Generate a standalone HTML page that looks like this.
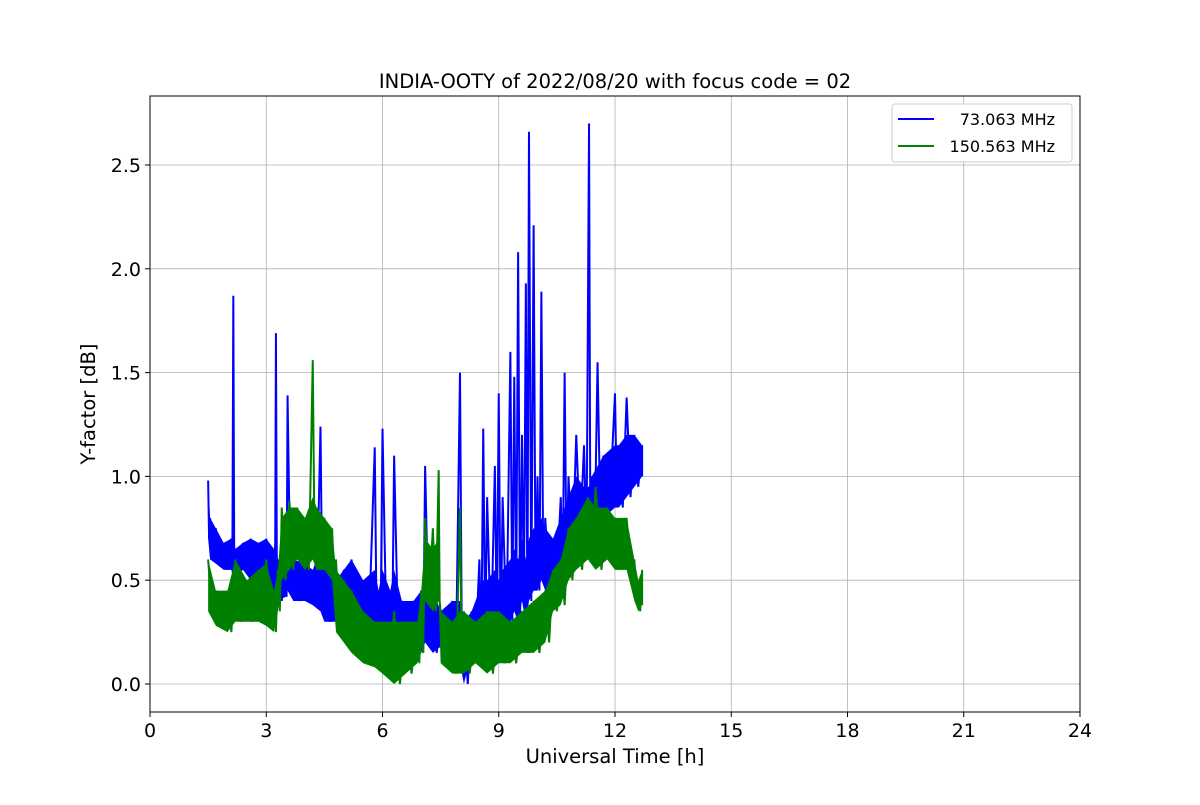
<!DOCTYPE html>
<html><head><meta charset="utf-8"><style>
body{margin:0;background:#fff;font-family:"Liberation Sans","DejaVu Sans",sans-serif}
svg text{font-family:"DejaVu Sans","Liberation Sans",sans-serif}
</style></head><body>
<svg id="c" width="1200" height="800" xmlns="http://www.w3.org/2000/svg"></svg>
<script>
const xTicks=[0,3,6,9,12,15,18,21,24];
const yTicks=[0.0,0.5,1.0,1.5,2.0,2.5];
const yTickLabels=["0.0","0.5","1.0","1.5","2.0","2.5"];
const blueT=[1.5,1.55,1.7,1.9,2.1,2.15,2.2,2.4,2.6,2.8,3.0,3.2,3.25,3.3,3.5,3.55,3.7,4.0,4.2,4.4,4.5,4.8,5.0,5.2,5.5,5.8,5.9,6.0,6.2,6.3,6.5,6.8,7.0,7.1,7.3,7.5,7.8,8.0,8.1,8.3,8.5,8.6,8.7,8.9,9.0,9.1,9.3,9.4,9.5,9.6,9.7,9.78,9.9,10.0,10.1,10.2,10.4,10.6,10.7,10.8,11.0,11.2,11.33,11.4,11.55,11.7,12.0,12.1,12.3,12.5,12.7];
const blueHi=[0.98,0.8,0.75,0.68,0.7,1.87,0.65,0.68,0.7,0.68,0.7,0.65,1.69,0.6,0.6,1.39,0.6,0.58,0.55,1.24,0.55,0.5,0.55,0.6,0.5,1.14,0.45,1.23,0.45,1.1,0.4,0.4,0.45,1.05,0.45,0.35,0.4,1.5,0.3,0.35,0.6,1.23,0.9,1.05,1.4,0.9,1.6,1.48,2.08,1.2,1.93,2.66,2.21,1.0,1.89,0.8,0.7,0.9,1.5,1.0,1.2,1.15,2.7,1.0,1.55,1.1,1.4,1.15,1.38,1.2,1.15];
const blueLo=[0.7,0.6,0.58,0.55,0.55,0.5,0.52,0.55,0.5,0.52,0.5,0.35,0.45,0.4,0.42,0.45,0.4,0.4,0.38,0.35,0.3,0.3,0.3,0.3,0.28,0.25,0.25,0.25,0.22,0.25,0.22,0.2,0.15,0.2,0.15,0.18,0.18,0.1,0.0,0.15,0.15,0.2,0.2,0.25,0.2,0.25,0.3,0.35,0.3,0.4,0.3,0.4,0.45,0.45,0.5,0.45,0.5,0.5,0.55,0.6,0.7,0.65,0.65,0.7,0.75,0.8,0.85,0.85,0.9,0.95,1.0];
const greenT=[1.5,1.7,2.0,2.2,2.5,2.8,3.0,3.2,3.3,3.4,3.6,3.8,4.0,4.2,4.3,4.5,4.7,4.8,5.0,5.2,5.5,5.8,6.0,6.3,6.6,6.9,7.0,7.1,7.3,7.45,7.5,7.8,8.0,8.1,8.4,8.7,9.0,9.3,9.6,9.9,10.2,10.4,10.6,10.8,11.0,11.3,11.5,11.8,12.0,12.3,12.5,12.6,12.7];
const greenHi=[0.6,0.45,0.45,0.6,0.5,0.55,0.6,0.45,0.55,0.85,0.88,0.85,0.8,1.56,0.85,0.8,0.75,0.6,0.5,0.45,0.35,0.3,0.3,0.35,0.3,0.3,0.45,0.8,0.75,1.03,0.35,0.3,0.85,0.35,0.3,0.35,0.35,0.3,0.35,0.4,0.45,0.55,0.6,0.75,0.8,0.9,0.95,0.85,0.8,0.8,0.6,0.5,0.55];
const greenLo=[0.35,0.28,0.25,0.3,0.3,0.3,0.28,0.25,0.35,0.5,0.55,0.6,0.55,0.6,0.55,0.55,0.5,0.25,0.2,0.15,0.1,0.08,0.05,0.0,0.05,0.1,0.15,0.4,0.35,0.4,0.1,0.05,0.05,0.05,0.1,0.05,0.1,0.1,0.15,0.15,0.2,0.35,0.38,0.5,0.55,0.6,0.55,0.6,0.55,0.55,0.4,0.35,0.38];
const L=150,R=1080,T=96,B=712;
const X=t=>L+(t/24)*(R-L);
const Y=v=>684-v*207.6;
const svg=document.getElementById('c');const NS='http://www.w3.org/2000/svg';
function el(tag,attrs,parent){const e=document.createElementNS(NS,tag);for(const k in attrs)e.setAttribute(k,attrs[k]);(parent||svg).appendChild(e);return e;}
const grid=el('g',{});


xTicks.forEach(t=>{const l=el('line',{x1:X(t),x2:X(t),y1:T,y2:B,stroke:'#b0b0b0','stroke-width':0.8},grid);


const k=el('line',{x1:X(t),x2:X(t),y1:B,y2:B+5,stroke:'#000'});


const tx=el('text',{x:X(t),y:B+25,'font-size':19,'text-anchor':'middle'});tx.textContent=t;

});
yTicks.forEach((v,i)=>{const l=el('line',{x1:L,x2:R,y1:Y(v),y2:Y(v),stroke:'#b0b0b0','stroke-width':0.8},grid);


const k=el('line',{x1:L-5,x2:L,y1:Y(v),y2:Y(v),stroke:'#000'});


const tx=el('text',{x:L-9,y:Y(v)+7,'font-size':19,'text-anchor':'end'});tx.textContent=yTickLabels[i];

});
function series(ts,hi,lo,color,name){
 const g=el('g',{});
 
 
 let band='';ts.forEach((t,i)=>band+=(i?'L':'M')+X(t)+','+Y(Math.min(hi[i],lo[i]+0.3)));
 for(let i=ts.length-1;i>=0;i--)band+='L'+X(ts[i])+','+Y(lo[i]);
 el('path',{d:band+'Z',fill:color,stroke:'none'},g);
 let z='';ts.forEach((t,i)=>{z+=(i?'L':'M')+X(t)+','+Y(hi[i]);const t2=i<ts.length-1?(t+ts[i+1])/2:t;z+='L'+X(t2)+','+Y(lo[i]);});
 el('path',{d:z,fill:'none',stroke:color,'stroke-width':2},g);
}
series(blueT,blueHi,blueLo,'#0000ff','series-73mhz');
series(greenT,greenHi,greenLo,'#008000','series-150mhz');
const fr=el('rect',{x:L,y:T,width:R-L,height:B-T,fill:'none',stroke:'#000','stroke-width':1});


const title=el('text',{x:615,y:88,'font-size':19.5,'text-anchor':'middle'});title.textContent='INDIA-OOTY of 2022/08/20 with focus code = 02';


const xt=el('text',{x:615,y:763,'font-size':19.5,'text-anchor':'middle'});xt.textContent='Universal Time [h]';


const yt=el('text',{x:95,y:404,'font-size':19.5,'text-anchor':'middle',transform:'rotate(-90 95 404)'});yt.textContent='Y-factor [dB]';


const lg=el('g',{});


el('rect',{x:892,y:104,width:180,height:58,rx:3,fill:'#fff',stroke:'#ccc'},lg);
[['#0000ff','  73.063 MHz',119],['#008000','150.563 MHz',146]].forEach(([c,s,y])=>{
 const e=el('g',{},lg);
 
 
 el('line',{x1:898,x2:934,y1:y,y2:y,stroke:c,'stroke-width':2},e);
 const t=el('text',{x:1055,y:y+6,'font-size':16,'text-anchor':'end'},e);t.textContent=s;});
</script>
</body></html>
